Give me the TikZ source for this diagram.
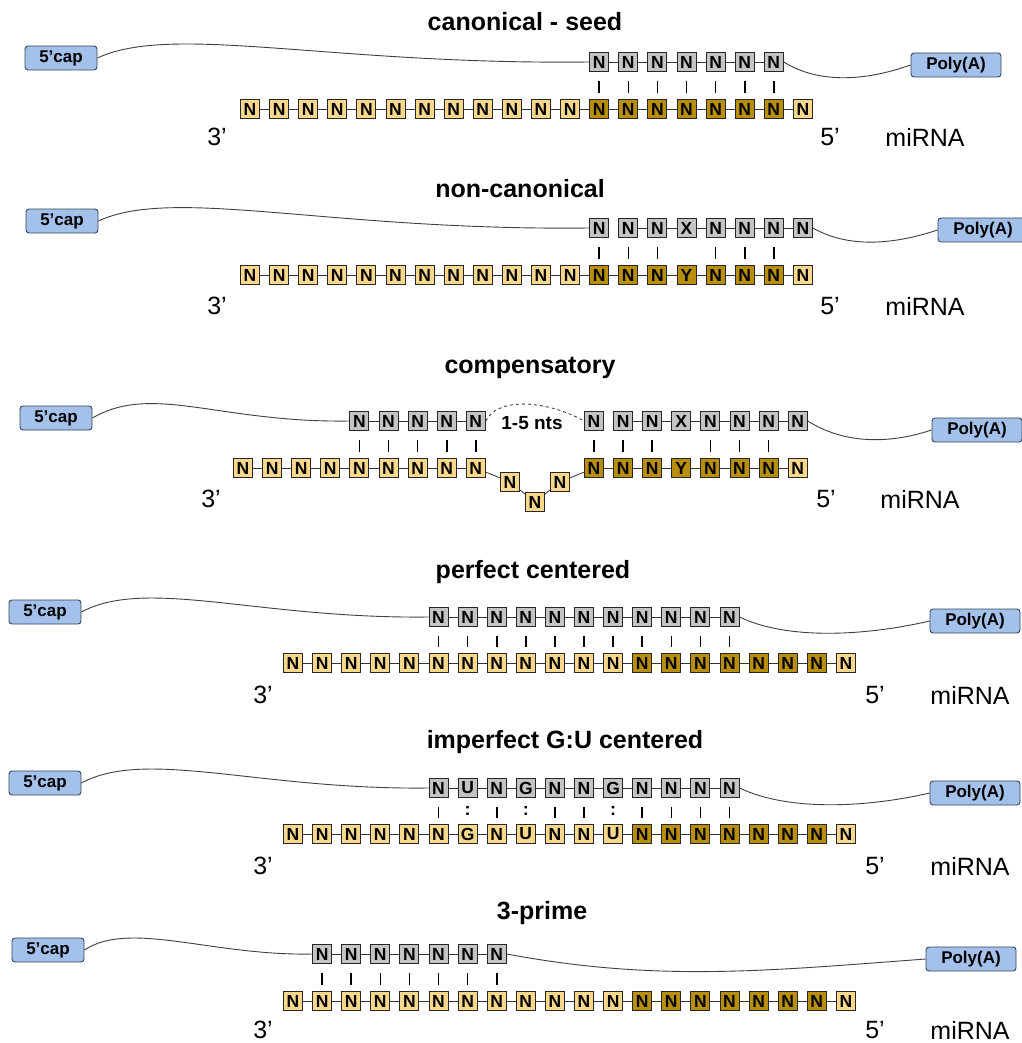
\documentclass[tikz,border=0pt]{standalone}
\usepackage{fontspec}
\setmainfont{Liberation Sans}
\definecolor{ntgray}{HTML}{C4C4C4}
\definecolor{ntlight}{HTML}{F9D88C}
\definecolor{ntdark}{HTML}{B88E0A}
\definecolor{capblue}{HTML}{A3C1EA}
\definecolor{capline}{HTML}{34455C}
\tikzset{
  nt/.style={draw=black!85,line width=1pt,minimum size=19pt,inner sep=0pt,font=\bfseries\fontsize{17.5}{17.5}\selectfont},
  tgt/.style={nt,fill=ntgray},
  mir/.style={nt,fill=ntlight},
  seed/.style={nt,fill=ntdark},
  link/.style={draw=black!80,line width=0.8pt},
  pair/.style={line width=1.6pt,shorten <=9pt,shorten >=6pt},
  endcap/.style={draw=capline,line width=0.9pt,fill=capblue,rounded corners=3pt,minimum height=24pt,inner sep=0pt,font=\bfseries\fontsize{17}{17}\selectfont},
  ttl/.style={font=\bfseries\fontsize{25}{25}\selectfont},
  lbl/.style={font=\fontsize{25}{25}\selectfont},
  utr/.style={draw=black!75,line width=0.9pt},
}

% gray target boxes: name, x0, y, labels, links start after this index
\newcommand{\target}[5]{%
  \foreach \lab [count=\k from 0] in {#4} {
    \node[tgt] (#1-\k) at ({#2+29.1*\k},#3) {\lab};
    \ifnum\k>#5 \pgfmathtruncatemacro\prev{\k-1}\draw[link] (#1-\prev) -- (#1-\k);\fi
  }}
% miRNA strand of 20, seed boxes 12-18
\newcommand{\mirna}[4]{%
  \foreach \lab [count=\k from 0] in {#4} {
    \ifnum\k<12 \def\sty{mir}\else\ifnum\k<19 \def\sty{seed}\else\def\sty{mir}\fi\fi
    \node[\sty] (#1-\k) at ({#2+29.1*\k},#3) {\lab};
    \ifnum\k>0 \pgfmathtruncatemacro\prev{\k-1}\draw[link] (#1-\prev) -- (#1-\k);\fi
  }}

\begin{document}
\begin{tikzpicture}[x=1pt,y=-1pt]
\useasboundingbox (0,0) rectangle (1021,1043);
\fill[white] (0,0) rectangle (1021,1043);

% canonical - seed
\node[ttl] (ttl1) at (525,22) {canonical - seed};
\node[endcap,minimum width=72pt] (cap1) at (61,58) {5'cap};
\node[endcap,minimum width=90pt] (pa1) at (956,65) {Poly(A)};
\target{t1}{250+29.1*12}{62}{N,N,N,N,N,N,N}{0}
\mirna{m1}{250}{109}{N,N,N,N,N,N,N,N,N,N,N,N,N,N,N,N,N,N,N,N}
\foreach \i [evaluate=\i as \k using int(\i+12)] in {0,...,6} \draw[pair] (t1-\i) -- (m1-\k);
\draw[utr] (cap1.east) .. controls +(75,-35) and +(-260,3) .. (t1-0.west);
\draw[utr] (t1-6.east) .. controls +(35,22) and +(-45,16) .. (pa1.west);
\node[lbl] (three1) at (217,137) {3'};
\node[lbl] (five1) at (830,137) {5'};
\node[lbl] (mir1) at (925,137) {miRNA};

% non-canonical
\node[ttl] (ttl2) at (520,189) {non-canonical};
\node[endcap,minimum width=72pt] (cap2) at (62,221) {5'cap};
\node[endcap,minimum width=90pt] (pa2) at (983,230) {Poly(A)};
\target{t2}{250+29.1*12}{228}{N,N,N,X,N,N,N,N}{1}
\mirna{m2}{250}{275}{N,N,N,N,N,N,N,N,N,N,N,N,N,N,N,Y,N,N,N,N}
\foreach \i [evaluate=\i as \k using int(\i+12)] in {0,1,2,4,5,6} \draw[pair] (t2-\i) -- (m2-\k);
\draw[utr] (cap2.east) .. controls +(75,-35) and +(-260,3) .. (t2-0.west);
\draw[utr] (t2-7.east) .. controls +(35,20) and +(-45,15) .. (pa2.west);
\node[lbl] (three2) at (217,306) {3'};
\node[lbl] (five2) at (830,306) {5'};
\node[lbl] (mir2) at (925,306) {miRNA};

% compensatory
\node[ttl] (ttl3) at (530,368) {compensatory};
\node[endcap,minimum width=72pt] (cap3) at (56,418) {5'cap};
\node[endcap,minimum width=90pt] (pa3) at (977,430) {Poly(A)};
\target{t3a}{243+29.1*4}{421}{N,N,N,N,N}{0}
\target{t3b}{594}{421}{N,N,N,X,N,N,N,N}{1}
\foreach \k in {0,...,8} {
  \node[mir] (m3a-\k) at ({243+29.1*\k},468) {N};
  \ifnum\k>0 \pgfmathtruncatemacro\prev{\k-1}\draw[link] (m3a-\prev) -- (m3a-\k);\fi
}
\node[mir] (loop1) at (510,482) {N};
\node[mir] (loop2) at (535,502) {N};
\node[mir] (loop3) at (560,482) {N};
\foreach \lab/\sty [count=\k from 0] in {N/seed,N/seed,N/seed,Y/seed,N/seed,N/seed,N/seed,N/mir} {
  \node[\sty] (m3b-\k) at ({594+29.1*\k},468) {\lab};
  \ifnum\k>0 \pgfmathtruncatemacro\prev{\k-1}\draw[link] (m3b-\prev) -- (m3b-\k);\fi
}
\draw[link] (m3a-8) -- (loop1) -- (loop2) -- (loop3) -- (m3b-0);
\foreach \i [evaluate=\i as \k using int(\i+4)] in {0,...,4} \draw[pair] (t3a-\i) -- (m3a-\k);
\foreach \i in {0,1,2,4,5,6} \draw[pair] (t3b-\i) -- (m3b-\i);
\draw[utr] (cap3.east) .. controls +(60,-35) and +(-130,2) .. (t3a-0.west);
\draw[utr] (t3b-7.east) .. controls +(35,22) and +(-45,15) .. (pa3.west);
\draw[utr,dashed] (t3a-4.east) .. controls +(12,-25) and +(-35,-20) .. (t3b-0.west);
\node[font=\bfseries\fontsize{19}{19}\selectfont] (gap3) at (532,423) {1-5 nts};
\node[lbl] (three3) at (211,499) {3'};
\node[lbl] (five3) at (826,499) {5'};
\node[lbl] (mir3) at (920,499) {miRNA};

% perfect centered
\node[ttl] (ttl4) at (533,572) {perfect centered};
\node[endcap,minimum width=72pt] (cap4) at (45,612) {5'cap};
\node[endcap,minimum width=90pt] (pa4) at (975,621) {Poly(A)};
\target{t4}{293+29.1*5}{617}{N,N,N,N,N,N,N,N,N,N,N}{0}
\mirna{m4}{293}{663}{N,N,N,N,N,N,N,N,N,N,N,N,N,N,N,N,N,N,N,N}
\foreach \i [evaluate=\i as \k using int(\i+5)] in {0,...,10} \draw[pair] (t4-\i) -- (m4-\k);
\draw[utr] (cap4.east) .. controls +(65,-35) and +(-170,2) .. (t4-0.west);
\draw[utr] (t4-10.east) .. controls +(50,24) and +(-60,14) .. (pa4.west);
\node[lbl] (three4) at (263,695) {3'};
\node[lbl] (five4) at (875,695) {5'};
\node[lbl] (mir4) at (970,695) {miRNA};

% imperfect G:U centered
\node[ttl] (ttl5) at (565,742) {imperfect G:U centered};
\node[endcap,minimum width=72pt] (cap5) at (45,783) {5'cap};
\node[endcap,minimum width=90pt] (pa5) at (975,793) {Poly(A)};
\target{t5}{293+29.1*5}{788}{N,U,N,G,N,N,G,N,N,N,N}{0}
\mirna{m5}{293}{834}{N,N,N,N,N,N,G,N,U,N,N,U,N,N,N,N,N,N,N,N}
\foreach \i [evaluate=\i as \k using int(\i+5)] in {0,2,4,5,7,8,9,10} \draw[pair] (t5-\i) -- (m5-\k);
\foreach \i [evaluate=\i as \k using int(\i+5)] in {1,3,6}
  \path (t5-\i) -- node[font=\bfseries\fontsize{18}{18}\selectfont] {:} (m5-\k);
\draw[utr] (cap5.east) .. controls +(65,-35) and +(-170,2) .. (t5-0.west);
\draw[utr] (t5-10.east) .. controls +(50,24) and +(-60,14) .. (pa5.west);
\node[lbl] (three5) at (263,866) {3'};
\node[lbl] (five5) at (875,866) {5'};
\node[lbl] (mir5) at (970,866) {miRNA};

% 3-prime
\node[ttl] (ttl6) at (542,913) {3-prime};
\node[endcap,minimum width=72pt] (cap6) at (48,950) {5'cap};
\node[endcap,minimum width=90pt] (pa6) at (971,959) {Poly(A)};
\target{t6}{293+29.1}{954}{N,N,N,N,N,N,N}{0}
\mirna{m6}{293}{1001}{N,N,N,N,N,N,N,N,N,N,N,N,N,N,N,N,N,N,N,N}
\foreach \i [evaluate=\i as \k using int(\i+1)] in {0,...,6} \draw[pair] (t6-\i) -- (m6-\k);
\draw[utr] (cap6.east) .. controls +(45,-30) and +(-100,2) .. (t6-0.west);
\draw[utr] (t6-6.east) .. controls +(150,28) and +(-160,12) .. (pa6.west);
\node[lbl] (three6) at (263,1030) {3'};
\node[lbl] (five6) at (875,1030) {5'};
\node[lbl] (mir6) at (970,1030) {miRNA};
\end{tikzpicture}
\end{document}
